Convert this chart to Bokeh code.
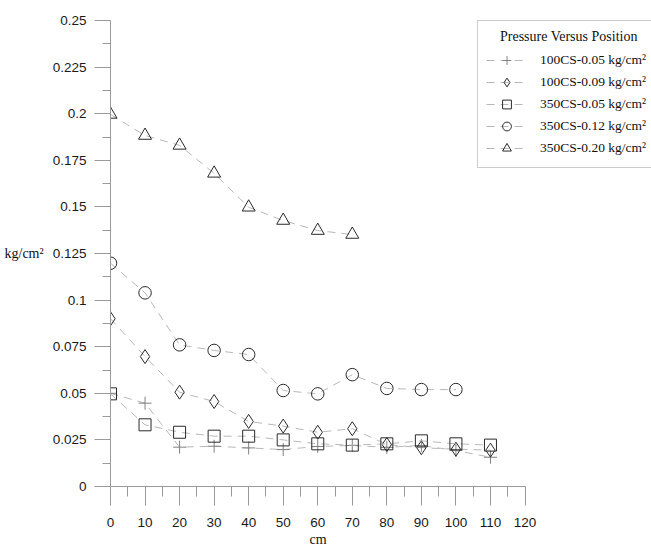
import numpy as np
from bokeh.plotting import figure
from bokeh.models import Range1d, FixedTicker, Legend, LegendItem, Title
from bokeh.embed import file_html
from bokeh.resources import INLINE

# ---- data ----
x_ticks = [0, 10, 20, 30, 40, 50, 60, 70, 80, 90, 100, 110, 120]
y_ticks = [0, 0.025, 0.05, 0.075, 0.1, 0.125, 0.15, 0.175, 0.2, 0.225, 0.25]
y_tick_labels = ["0", "0.025", "0.05", "0.075", "0.1", "0.125", "0.15", "0.175", "0.2", "0.225", "0.25"]

pos_a = [0, 10, 20, 30, 40, 50, 60, 70, 80, 90, 100, 110]
cs100_005 = [0.050, 0.0447, 0.0211, 0.0216, 0.0207, 0.0198, 0.0215, 0.0220, 0.0210, 0.0220, 0.0193, 0.0157]
cs100_009 = [0.090, 0.0697, 0.0506, 0.0456, 0.0349, 0.0324, 0.0291, 0.0310, 0.0225, 0.0208, 0.0200, 0.0195]
cs350_005 = [0.0497, 0.0331, 0.0291, 0.0270, 0.0270, 0.0250, 0.0229, 0.0222, 0.0229, 0.0245, 0.0229, 0.0222]
pos_b = [0, 10, 20, 30, 40, 50, 60, 70, 80, 90, 100]
cs350_012 = [0.1198, 0.1039, 0.0760, 0.0730, 0.0708, 0.0515, 0.0497, 0.0600, 0.0526, 0.0520, 0.0520]
pos_c = [0, 10, 20, 30, 40, 50, 60, 70]
cs350_020 = [0.1996, 0.1883, 0.1830, 0.1680, 0.1498, 0.1427, 0.1373, 0.1352]

labels = ["100CS-0.05 kg/cm\u00b2", "100CS-0.09 kg/cm\u00b2", "350CS-0.05 kg/cm\u00b2",
          "350CS-0.12 kg/cm\u00b2", "350CS-0.20 kg/cm\u00b2"]
legend_title = "Pressure Versus Position"
x_label = "cm"
y_label = "kg/cm\u00b2"

X_MAX = 120
# frame runs to the right edge so the legend is not clipped; the axis is bounded at 120
x_view_end = X_MAX * 541.0 / 414.5

p = figure(width=651, height=547, output_backend="svg", toolbar_location=None,
           x_range=Range1d(0, x_view_end), y_range=Range1d(0, 0.25),
           min_border_left=110, min_border_right=0, min_border_top=20, min_border_bottom=61)
p.outline_line_color = None
p.xgrid.visible = False
p.ygrid.visible = False
p.background_fill_color = "white"
p.border_fill_color = "white"

axis_col = "#9a9a9a"
for ax in (p.xaxis[0], p.yaxis[0]):
    ax.axis_line_color = axis_col
    ax.major_tick_line_color = axis_col
    ax.minor_tick_line_color = axis_col
    ax.major_tick_in = 0
    ax.minor_tick_in = 0
    ax.major_label_text_font = "Liberation Sans"
    ax.major_label_text_font_size = "13.5px"
    ax.major_label_text_color = "#1a1a1a"
    ax.axis_label_text_font = "Liberation Serif"
    ax.axis_label_text_font_size = "14px"
    ax.axis_label_text_font_style = "normal"
    ax.axis_label_text_color = "#111111"

p.xaxis[0].bounds = (0, X_MAX)
minor_x = [v + 5 for v in x_ticks[:-1]]
minor_y = [round(v + 0.0125, 4) for v in y_ticks[:-1]]
p.xaxis[0].ticker = FixedTicker(ticks=x_ticks, minor_ticks=minor_x)
p.yaxis[0].ticker = FixedTicker(ticks=y_ticks, minor_ticks=minor_y)
p.yaxis[0].major_label_overrides = {t: l for t, l in zip(y_ticks, y_tick_labels)}
p.xaxis[0].major_tick_out = 19
p.xaxis[0].minor_tick_out = 10
p.yaxis[0].major_tick_out = 16
p.yaxis[0].minor_tick_out = 8
p.xaxis[0].major_label_standoff = 12
p.yaxis[0].major_label_standoff = 8
p.yaxis[0].axis_label = y_label
p.yaxis[0].axis_label_orientation = "horizontal"
p.yaxis[0].axis_label_standoff = 6

# x-axis title placed under the bounded axis (centre of 0..120)
p.add_layout(Title(text=x_label, align="left", offset=199, standoff=1,
                   text_font="Liberation Serif", text_font_size="14px",
                   text_line_height=0.9,
                   text_font_style="normal", text_color="#111111"), "below")

line_col = "#b8b8b8"
dash = "8 6"
mk = "#2a2a2a"

series = [
    (pos_a, cs100_005, dict(marker="cross", size=13, line_color="#808080", fill_color=None)),
    (pos_a, cs100_009, dict(marker="diamond", size=14, line_color=mk, fill_color=None)),
    (pos_a, cs350_005, dict(marker="square", size=12, line_color=mk, fill_color=None)),
    (pos_b, cs350_012, dict(marker="circle", size=12.5, line_color=mk, fill_color=None)),
    (pos_c, cs350_020, dict(marker="triangle", size=13, line_color=mk, fill_color=None)),
]

items = []
for (xs, ys, style), lab in zip(series, labels):
    l = p.line(xs, ys, line_color=line_col, line_dash=dash, line_width=1)
    s = p.scatter(xs, ys, line_width=1, **style)
    items.append(LegendItem(label=lab, renderers=[l, s]))

legend = Legend(items=items, location=(367, 318), margin=0, padding=8,
                spacing=0, glyph_width=41, glyph_height=22, label_height=20,
                label_standoff=13, border_line_color="#9a9a9a", border_line_width=1,
                background_fill_color="white", background_fill_alpha=1,
                label_text_font="Liberation Serif", label_text_font_size="13.5px",
                label_text_color="#111111",
                title="\u00a0\u00a0\u00a0\u00a0" + legend_title, title_text_font="Liberation Serif",
                title_text_font_size="14px", title_text_font_style="normal",
                title_text_color="#111111", title_standoff=4)
p.add_layout(legend, "center")

open("out.html", "w").write(file_html(p, INLINE))
